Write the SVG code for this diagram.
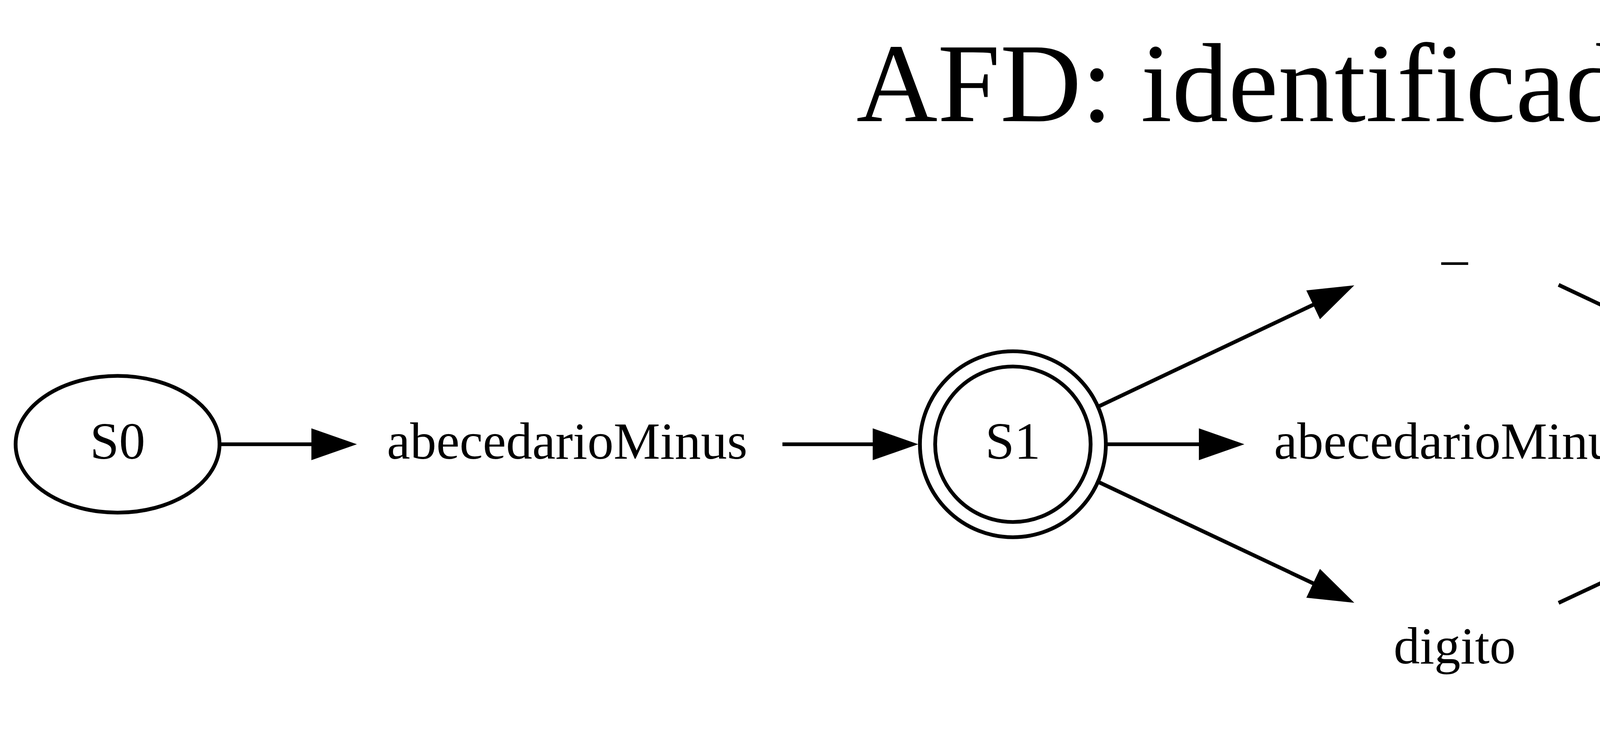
<svg xmlns="http://www.w3.org/2000/svg" width="6584" height="1876" viewBox="0 0 6584 1876">
<style>
  .lbl { font-family: "Liberation Serif", "Times New Roman", serif; font-size: 134px; fill: #000; text-anchor: middle; }
  .title { font-family: "Liberation Serif", "Times New Roman", serif; font-size: 288px; fill: #000; text-anchor: middle; }
  .shape { fill: none; stroke: #000; stroke-width: 9.7; }
  .edge { fill: none; stroke: #000; stroke-width: 9.7; marker-end: url(#arrow); }
</style>
<defs>
  <marker id="arrow" markerUnits="userSpaceOnUse" orient="auto" refX="0" refY="0" markerWidth="140" markerHeight="100" overflow="visible">
    <path d="M0,-34 L97,0 L0,34 Z" fill="#000" stroke="#000" stroke-width="9.7"/>
  </marker>
</defs>
<rect x="0" y="0" width="6584" height="1876" fill="#fff"/>
<line x1="6582.5" y1="0" x2="6582.5" y2="1876" stroke="#d0d0d0" stroke-width="3"/>

<text id="title" class="title" x="3292" y="310">AFD: identificador</text>

<g id="connectors">
  <path class="edge" d="M563,1137 L802,1137"/>
  <path class="edge" d="M2003,1137 L2239,1137"/>
  <path class="edge" d="M2813,1040 L3366,778"/>
  <path class="edge" d="M2831,1137 L3074,1137"/>
  <path class="edge" d="M2813,1234 L3366,1495"/>
  <path class="edge" d="M3990,729 L4540,989"/>
  <path class="edge" d="M4271,1137 L4509,1137"/>
  <path class="edge" d="M3990,1543 L4540,1285"/>
  <path class="edge" d="M5741,673 C5551,753 5320,856 5163,943"/>
  <path class="edge" d="M5100,1080 C5280,1015 5485,925 5643,839"/>
  <path class="edge" d="M5456,1072 C5370,1072 5290,1075 5213,1079"/>
  <path class="edge" d="M5103,1187 C5180,1194 5260,1200 5343,1202"/>
  <path class="edge" d="M5741,1490 C5561,1398 5377,1304 5210,1237"/>
  <path class="edge" d="M5063,1278 C5233,1373 5479,1495 5637,1558"/>
</g>

<g id="S0">
  <ellipse class="shape" cx="301" cy="1137" rx="261" ry="175"/>
  <text class="lbl" x="301" y="1174">S0</text>
</g>
<g id="l_abc1">
  <text class="lbl" x="1452" y="1174">abecedarioMinus</text>
</g>
<g id="S1">
  <circle class="shape" cx="2593" cy="1137" r="199"/>
  <circle class="shape" cx="2593" cy="1137" r="238"/>
  <text class="lbl" x="2593" y="1174">S1</text>
</g>
<g id="l_under1">
  <text class="lbl" x="3724" y="661">_</text>
</g>
<g id="l_abc2">
  <text class="lbl" x="3723" y="1174">abecedarioMinus</text>
</g>
<g id="l_digito1">
  <text class="lbl" x="3724" y="1698">digito</text>
</g>
<g id="S2">
  <circle class="shape" cx="4865" cy="1137" r="199"/>
  <circle class="shape" cx="4865" cy="1137" r="238"/>
  <text class="lbl" x="4865" y="1174">S2</text>
</g>
<g id="l_under2">
  <text class="lbl" x="5997" y="661">_</text>
</g>
<g id="l_abc3">
  <text class="lbl" x="5995" y="1174">abecedarioMinus</text>
</g>
<g id="l_digito2">
  <text class="lbl" x="5996" y="1698">digito</text>
</g>
</svg>
